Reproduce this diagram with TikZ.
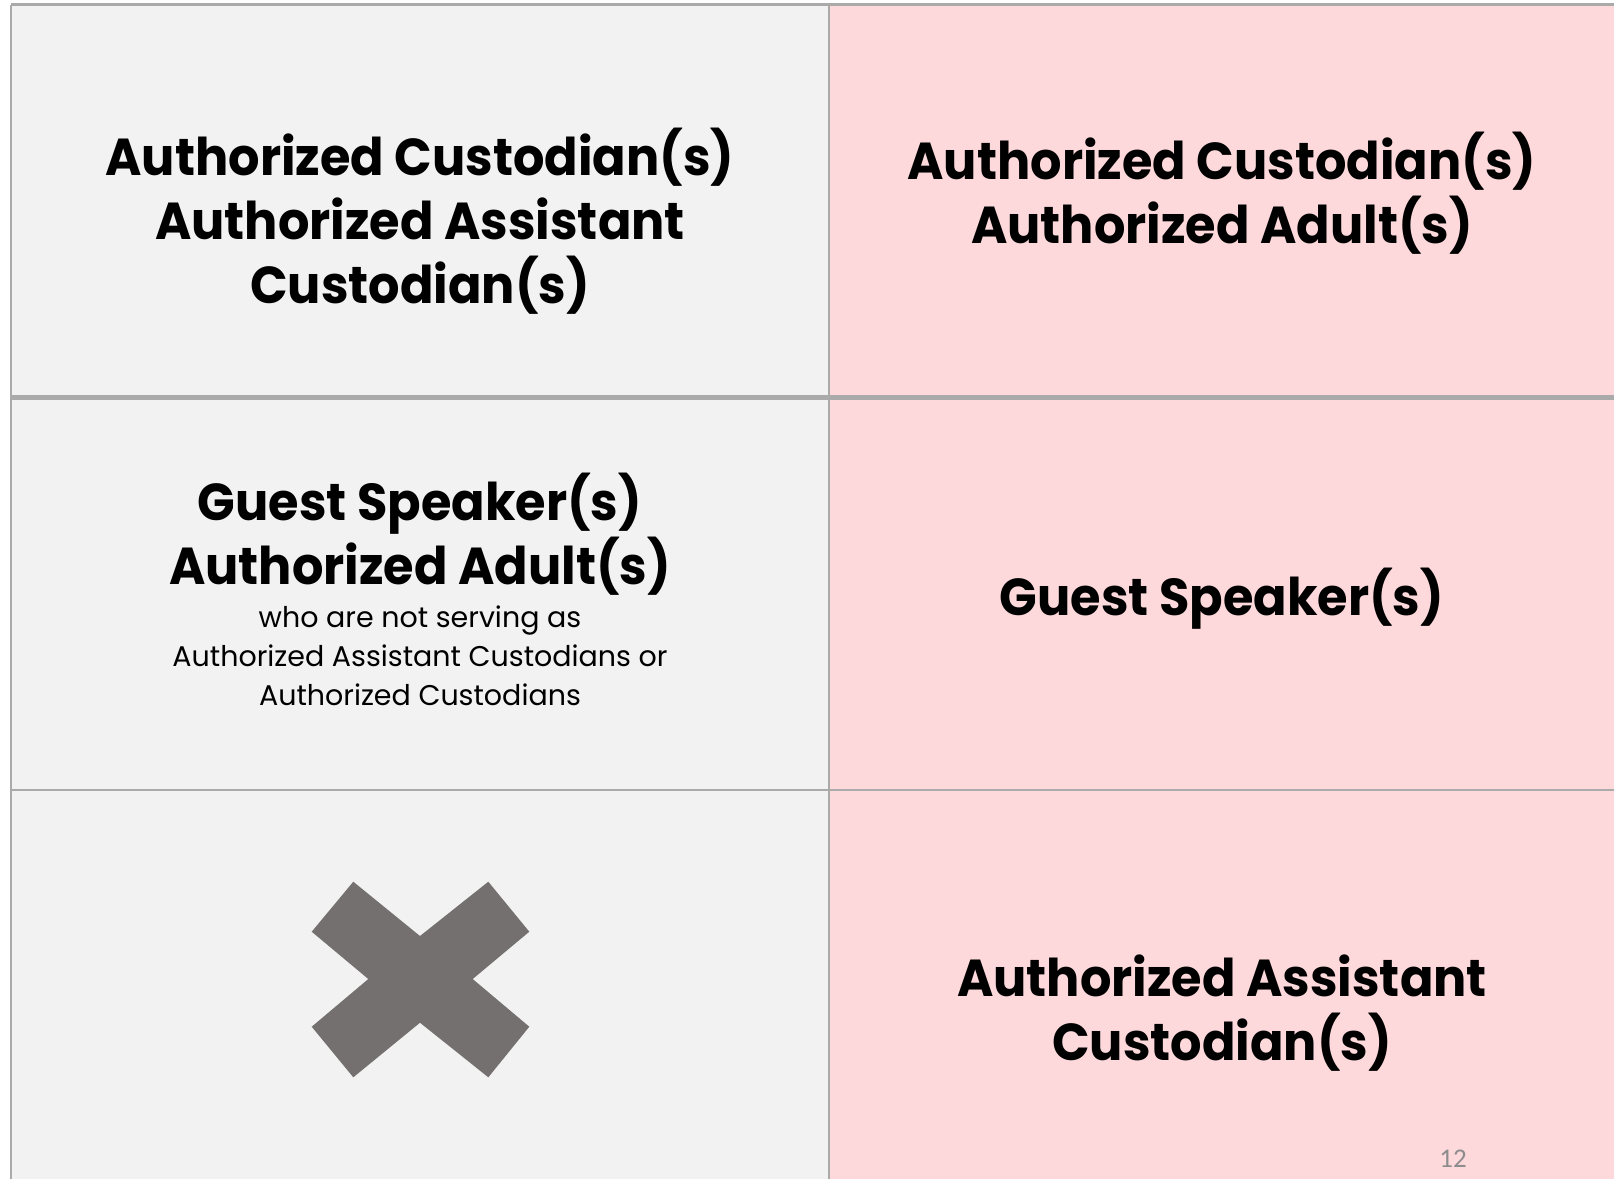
\documentclass[tikz,border=0pt]{standalone}
\usepackage{fontspec}
\setmainfont{Poppins}
\newfontfamily\headfont{Poppins}[FakeStretch=0.95]
\newfontfamily\numfont{Carlito}
\usetikzlibrary{positioning}
\definecolor{cellgray}{RGB}{242,242,242}
\definecolor{cellpink}{RGB}{253,217,220}
\definecolor{rulegray}{RGB}{170,170,170}
\definecolor{crossgray}{RGB}{116,112,111}
\definecolor{numgray}{RGB}{140,140,140}
\tikzset{leftcell/.style={fill=cellgray, draw=none},
  rightcell/.style={fill=cellpink, draw=none},
  gridline/.style={draw=rulegray, line width=2.8pt},
  bigtext/.style={align=center, inner sep=0pt, font=\headfont\fontsize{52}{64}\selectfont\bfseries},
  smalltext/.style={align=center, inner sep=0pt, font=\fontsize{28.5}{39}\selectfont}}
\begin{document}
\begin{tikzpicture}[x=1pt,y=-1pt]
\useasboundingbox (0,0) rectangle (1614,1179);
% cells
\fill[leftcell] (11,4) rectangle (829,1179);
\fill[rightcell] (829,4) rectangle (1614,1179);
% grid
\coordinate (tl) at (11,4.5);
\coordinate (tr) at (1614,4.5);
\coordinate (bl) at (11,1179);
\coordinate (mt) at (829,4.5);
\coordinate (mb) at (829,1179);
\coordinate (r1l) at (11,397.5);
\coordinate (r1r) at (1614,397.5);
\coordinate (r2l) at (11,790);
\coordinate (r2r) at (1614,790);
\draw[gridline] (tl) -- (tr);
\draw[gridline] (tl) -- (bl);
\draw[gridline] (mt) -- (mb);
\draw[gridline, line width=4.5pt] (r1l) -- (r1r);
\draw[gridline] (r2l) -- (r2r);

% row 1
\node (custA) [bigtext] at (420,221) {Authorized Custodian(s)\\Authorized Assistant\\Custodian(s)};
\node (custB) [bigtext] at (1222,193) {Authorized Custodian(s)\\Authorized Adult(s)};
% row 2
\node (guestA) [bigtext] at (420,534) {Guest Speaker(s)\\Authorized Adult(s)};
\node (guestnote) [smalltext, below=10pt of guestA] {who are not serving as\\Authorized Assistant Custodians or\\Authorized Custodians};
\node (guestB) [bigtext] at (1222,599) {Guest Speaker(s)};
% row 3
\fill[crossgray] (353.3,881.7) -- (420,936) -- (488.3,881.7) -- (529.3,931.7) -- (472.7,979)
  -- (529.3,1026.7) -- (488.3,1077.3) -- (420,1022.7) -- (353.3,1077.3) -- (311.7,1026.7)
  -- (368.3,979) -- (311.7,931.7) -- cycle;
\node (assistB) [bigtext] at (1222,1013) {Authorized Assistant\\Custodian(s)};
\node (pagenum) [text=numgray, font=\numfont\fontsize{27}{30}\selectfont] at (1453,1159) {12};
\end{tikzpicture}
\end{document}
